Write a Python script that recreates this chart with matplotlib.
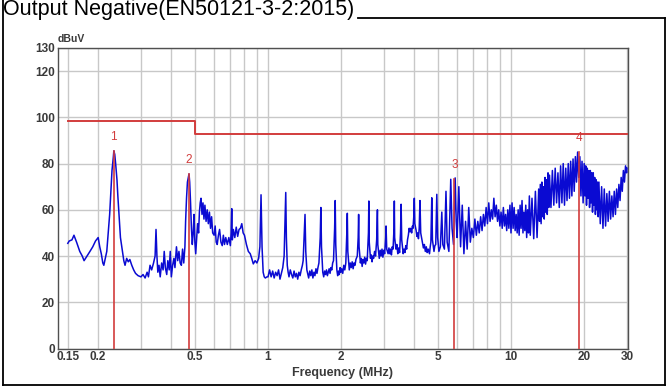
import matplotlib
matplotlib.use("Agg")
import matplotlib.pyplot as plt
from matplotlib.lines import Line2D
from matplotlib.ticker import FixedLocator, NullFormatter

plt.rcParams['font.family'] = ['Liberation Sans', 'DejaVu Sans']

TITLE = "Output Negative(EN50121-3-2:2015)"

# scan below 1 MHz
freq_low = [0.150, 0.152, 0.156, 0.159, 0.163, 0.168, 0.172, 0.175, 0.180, 0.185,
            0.190, 0.195, 0.200, 0.203, 0.206, 0.209, 0.211, 0.214, 0.217, 0.220,
            0.223, 0.226, 0.228, 0.231, 0.232, 0.234, 0.236, 0.239, 0.241, 0.244,
            0.247, 0.251, 0.255, 0.258, 0.262, 0.266, 0.270, 0.275, 0.280, 0.285,
            0.292, 0.300, 0.306, 0.312, 0.318, 0.322, 0.327, 0.332, 0.338, 0.343,
            0.346, 0.349, 0.352, 0.356, 0.360, 0.365, 0.370, 0.374, 0.378, 0.383,
            0.387, 0.392, 0.396, 0.400, 0.405, 0.410, 0.414, 0.420, 0.425, 0.430,
            0.435, 0.440, 0.445, 0.450, 0.455, 0.458, 0.462, 0.466, 0.470, 0.473,
            0.476, 0.480, 0.484, 0.488, 0.492, 0.496, 0.500, 0.504, 0.508, 0.513,
            0.518, 0.522, 0.526, 0.530, 0.535, 0.540, 0.545, 0.550, 0.556, 0.562,
            0.568, 0.574, 0.580, 0.586, 0.592, 0.600, 0.606, 0.612, 0.618, 0.625,
            0.632, 0.640, 0.648, 0.655, 0.662, 0.670, 0.680, 0.690, 0.700, 0.705,
            0.709, 0.713, 0.720, 0.730, 0.740, 0.750, 0.760, 0.770, 0.780, 0.790,
            0.800, 0.815, 0.830, 0.845, 0.857, 0.870, 0.885, 0.900, 0.915, 0.926,
            0.936, 0.945, 0.955, 0.965, 0.975, 0.990]
level_low = [45.5, 46.5, 47, 49, 46, 42, 40, 38, 40, 42,
             44, 46.5, 48, 44, 41, 37, 36, 39, 42, 50,
             58, 70, 77, 83, 85.5, 84, 80, 73, 66, 57,
             48, 43, 38, 36, 39, 37.5, 38.5, 36, 34, 32.5,
             31.5, 31, 32, 30.5, 33, 31, 36, 34, 37, 40,
             51.5, 40, 33, 36, 31, 37, 34, 42, 35, 32,
             38, 34, 42, 31, 36, 39, 35, 44, 38, 42,
             37, 36, 43, 37, 44, 55, 65, 72, 74, 75.5,
             72, 63, 52, 45, 50, 58, 46, 41, 47, 54,
             50, 59, 63, 65, 58, 63, 56, 62, 55, 60,
             54, 59, 52, 57, 50, 49, 53, 46, 45, 49,
             51.5, 46, 44.5, 49, 45, 48, 45, 48, 44.5, 50,
             60.5, 47, 51.5, 48, 52.5, 48.5, 51.5, 52, 54, 50,
             49, 45, 42, 41, 39, 36.6, 38, 37, 39, 44,
             66.5, 44, 33, 31, 30.5, 31]

# 1 MHz .. 6 MHz, comb of narrow spikes
freq_mid = [1.00, 1.015, 1.03, 1.045, 1.06, 1.075, 1.09, 1.105, 1.12, 1.135,
            1.15, 1.165, 1.175, 1.183, 1.19, 1.20, 1.21, 1.22, 1.235, 1.25,
            1.265, 1.28, 1.295, 1.31, 1.325, 1.34, 1.355, 1.37, 1.385, 1.395,
            1.41, 1.42, 1.43, 1.445, 1.46, 1.47, 1.485, 1.50, 1.515, 1.53,
            1.545, 1.56, 1.575, 1.59, 1.605, 1.62, 1.64, 1.65, 1.66, 1.68,
            1.695, 1.71, 1.725, 1.74, 1.755, 1.77, 1.785, 1.80, 1.815, 1.83,
            1.845, 1.86, 1.88, 1.89, 1.90, 1.92, 1.935, 1.95, 1.965, 1.98,
            1.995, 2.01, 2.03, 2.05, 2.07, 2.09, 2.11, 2.12, 2.13, 2.16,
            2.18, 2.20, 2.22, 2.24, 2.26, 2.28, 2.30, 2.33, 2.35, 2.36,
            2.37, 2.40, 2.42, 2.44, 2.46, 2.48, 2.50, 2.52, 2.54, 2.56,
            2.59, 2.60, 2.61, 2.64, 2.66, 2.68, 2.70, 2.72, 2.745, 2.77,
            2.80, 2.82, 2.83, 2.87, 2.895, 2.92, 2.945, 2.97, 2.995, 3.02,
            3.05, 3.06, 3.08, 3.12, 3.145, 3.17, 3.195, 3.22, 3.245, 3.27,
            3.30, 3.31, 3.32, 3.36, 3.39, 3.42, 3.45, 3.48, 3.51, 3.53,
            3.55, 3.60, 3.63, 3.66, 3.69, 3.72, 3.75, 3.78, 3.81, 3.84,
            3.87, 3.90, 3.93, 3.95, 3.98, 4.00, 4.02, 4.07, 4.10, 4.13,
            4.16, 4.19, 4.22, 4.25, 4.32, 4.36, 4.40, 4.44, 4.48, 4.52,
            4.56, 4.62, 4.65, 4.68, 4.72, 4.75, 4.82, 4.86, 4.90, 4.95,
            4.99, 5.05, 5.12, 5.19, 5.24, 5.32, 5.40, 5.46, 5.55, 5.65,
            5.72, 5.80, 5.89, 5.95]
level_mid = [31, 34, 31, 33.5, 30.5, 33, 31.5, 34, 30, 32.5,
             35, 40, 55, 67.5, 48, 36, 33, 31, 34, 32,
             30.5, 33.5, 31, 32.5, 30, 33, 31.5, 34, 36, 38,
             50, 58, 42, 34, 32, 30.5, 33.5, 31.5, 34, 30.5,
             33, 31.5, 34.5, 32.5, 35, 37, 48, 61, 44, 33,
             31, 33.5, 32, 34, 31.5, 33, 34.5, 32.5, 35, 34,
             37, 38, 52, 64, 45, 34, 31.5, 33.5, 32, 35,
             33, 34.5, 32.5, 36, 34, 37, 50, 58.5, 42, 34,
             37, 35, 37.5, 34.5, 37, 36, 38.5, 40, 48, 58,
             44, 37, 39, 35.5, 38.5, 37, 39.5, 36.5, 39, 38,
             50, 63.8, 46, 39, 40.5, 37.5, 40, 39, 42, 40,
             47, 60, 45, 39, 42.5, 40, 43, 39.5, 42.5, 41,
             48, 53, 43, 41, 43.5, 41, 43, 40.5, 44, 43,
             52, 63.8, 48, 43, 45, 41, 43.5, 41.5, 50, 62.4,
             47, 41, 43, 41.5, 44.5, 43, 47, 49, 52, 50.5,
             52, 50, 53, 52, 57, 65, 54, 51, 48.5, 50,
             47.5, 52, 64, 50, 46, 43.5, 45, 42, 44, 41.5,
             43, 41, 44, 46, 65.2, 47, 42, 44.5, 45, 66.7,
             48, 42, 44, 59, 45, 43, 68, 46, 42, 73.2,
             52, 45, 73.8, 55]

# 6 MHz .. 30 MHz, dense broadband part
freq_high = [6.0, 6.1, 6.2, 6.3, 6.4, 6.5, 6.6, 6.7, 6.8, 6.9,
             7.0, 7.1, 7.2, 7.3, 7.4, 7.5, 7.6, 7.7, 7.8, 7.9,
             8.0, 8.1, 8.2, 8.3, 8.4, 8.5, 8.6, 8.7, 8.8, 8.9,
             9.0, 9.1, 9.2, 9.3, 9.4, 9.5, 9.6, 9.7, 9.8, 9.9,
             10.0, 10.1, 10.2, 10.3, 10.4, 10.5, 10.6, 10.7, 10.8, 10.9,
             11.0, 11.1, 11.2, 11.3, 11.4, 11.5, 11.6, 11.7, 11.8, 11.9,
             12.0, 12.2, 12.4, 12.6, 12.8, 13.0, 13.1, 13.2, 13.3, 13.4,
             13.5, 13.6, 13.7, 13.8, 13.9, 14.0, 14.1, 14.2, 14.3, 14.4,
             14.6, 14.8, 15.0, 15.2, 15.4, 15.6, 15.8, 16.0, 16.2, 16.4,
             16.6, 16.8, 17.0, 17.2, 17.4, 17.6, 17.8, 18.0, 18.2, 18.4,
             18.6, 18.8, 19.0, 19.2, 19.4, 19.6, 19.8, 20.0, 20.15, 20.3,
             20.45, 20.6, 20.75, 20.9, 21.05, 21.2, 21.35, 21.5, 21.65, 21.8,
             21.95, 22.1, 22.25, 22.4, 22.55, 22.7, 22.85, 23.0, 23.3, 23.6,
             23.9, 24.2, 24.5, 24.8, 25.1, 25.4, 25.7, 26.0, 26.3, 26.6,
             26.9, 27.2, 27.5, 27.8, 28.1, 28.4, 28.7, 29.0, 29.3, 29.6,
             29.9, 30.0]
level_high = [48, 70, 44, 62, 41, 55, 43, 61, 46, 52,
              48, 56, 49, 55, 50, 57, 51, 58, 53, 61,
              54, 63, 55, 60, 56, 65, 57, 62, 55, 60,
              53, 59, 52, 61, 53, 58, 51, 60, 52, 62,
              50, 63, 52, 61, 51, 58, 50, 60, 49, 62,
              52, 64, 50, 59, 51, 62, 48, 60, 50, 66,
              49, 65, 47.5, 68, 48, 69, 55, 71, 54, 72,
              57, 70, 56, 74, 59, 73, 58, 76, 61, 75,
              61, 77, 62, 78, 63, 76, 61, 79, 63, 80,
              62, 78, 64, 80, 65, 81, 66, 82, 68, 83,
              72, 85, 74, 83, 66, 81, 63, 80, 66, 79,
              62, 78, 65, 77, 61, 77, 63, 76, 59, 76,
              62, 74, 58, 73, 60, 72, 57, 72, 54, 70,
              52, 69, 53, 67, 55, 68, 56, 66, 57, 68,
              58, 69, 61, 71, 64, 74, 68, 77, 72, 79,
              76, 78]

# limit line (dBuV)
limit_freq = [0.15, 0.5, 0.5, 30]
limit_level = [98.6, 98.6, 92.8, 92.8]

# markers
marker_ids = ["1", "2", "3", "4"]
marker_freq = [0.232, 0.473, 5.85, 19.0]
marker_level = [85.5, 75.5, 73.5, 85.0]

x_ticks = [0.15, 0.2, 0.5, 1, 2, 5, 10, 20, 30]
x_tick_labels = ["0.15", "0.2", "0.5", "1", "2", "5", "10", "20", "30"]
x_minor = [0.3, 0.4, 0.6, 0.7, 0.8, 0.9, 3, 4, 6, 7, 8, 9]
y_ticks = [0, 20, 40, 60, 80, 100, 120, 130]

W, H = 667, 387
fig = plt.figure(figsize=(W / 100, H / 100), dpi=100)
fig.patch.set_facecolor("white")

ax = fig.add_axes([57.7 / W, (H - 348.5) / H, (628 - 57.7) / W, (348.5 - 48) / H])

RED = "#d23c3c"
BLUE = "#0a0ad2"

ax.plot(freq_low + freq_mid + freq_high, level_low + level_mid + level_high,
        color=BLUE, lw=1.1, zorder=3)
ax.plot(limit_freq, limit_level, color=RED, lw=1.4, zorder=4)

for mid, mf, ml in zip(marker_ids, marker_freq, marker_level):
    ax.plot([mf, mf], [0, ml], color=RED, lw=1.2, zorder=5)
    ax.text(mf, ml + 3.5, mid, color=RED, fontsize=8.5, ha="center", va="bottom", zorder=6)

ax.set_xscale("log")
ax.set_xlim(0.1363, 30.3)
ax.set_ylim(0, 130)

ax.xaxis.set_major_locator(FixedLocator(x_ticks))
ax.set_xticklabels(x_tick_labels)
ax.xaxis.set_minor_locator(FixedLocator(x_minor))
ax.xaxis.set_minor_formatter(NullFormatter())
ax.set_yticks(y_ticks)

ax.grid(True, which="both", color="#c8c8c8", lw=1.0, zorder=0)
ax.set_axisbelow(True)
ax.tick_params(which="both", length=0, labelsize=8.5, labelcolor="#3a3a3a", pad=2)
for lbl in ax.get_xticklabels() + ax.get_yticklabels():
    lbl.set_fontweight("bold")
for sp in ax.spines.values():
    sp.set_color("#505050")
    sp.set_linewidth(1.0)

ax.set_xlabel("Frequency (MHz)", fontsize=9, fontweight="bold", color="#3a3a3a", labelpad=3)
fig.text(58 / W, (H - 39) / H, "dBuV", fontsize=7.5, fontweight="bold",
         color="#3a3a3a", ha="left", va="center")

fig.text(3 / W, (H - 10) / H, TITLE, fontsize=15.5, color="black", ha="left", va="center")

# frame around the chart
box = dict(color="black", lw=1.3, transform=fig.transFigure)
fig.add_artist(Line2D([2.5 / W, 2.5 / W], [1 - 0 / H, 1 - 385 / H], **box))
fig.add_artist(Line2D([2.5 / W, 664.5 / W], [1 - 385 / H, 1 - 385 / H], **box))
fig.add_artist(Line2D([664.5 / W, 664.5 / W], [1 - 385 / H, 1 - 17.5 / H], **box))
fig.add_artist(Line2D([358 / W, 664.5 / W], [1 - 17.5 / H, 1 - 17.5 / H], **box))

fig.savefig("out.png", dpi=100)
